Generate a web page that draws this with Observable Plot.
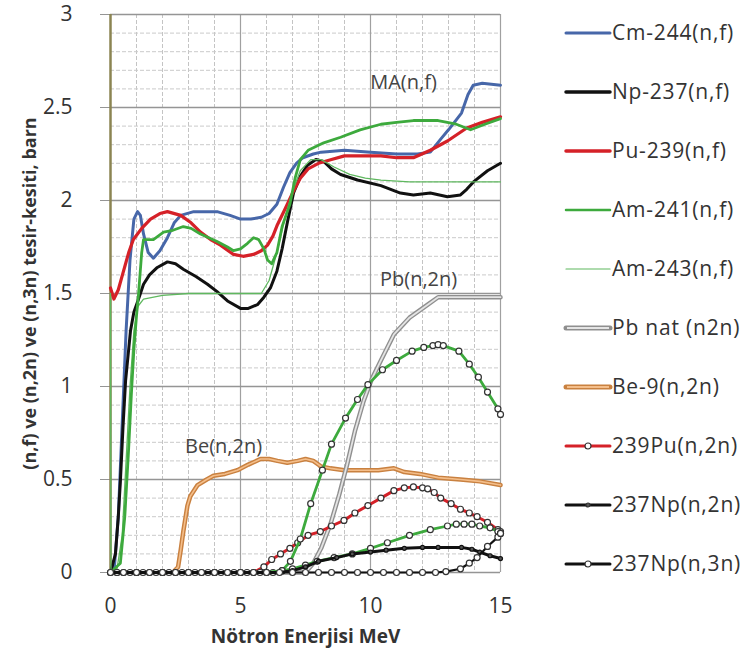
<!DOCTYPE html>
<html>
<head>
<meta charset="utf-8">
<script src="https://cdn.jsdelivr.net/npm/d3@7"></script>
<script src="https://cdn.jsdelivr.net/npm/@observablehq/plot@0.6"></script>
<style>
  body { margin: 0; background: #fff; }
  #wrap { position: relative; width: 747px; height: 664px; }
  #wrap svg { position: absolute; left: 0; top: 0; }
  text { font-family: "Open Sans", sans-serif; }
</style>
</head>
<body>
<div id="wrap"></div>
<script>
// ---- tick labels ----
const xTicks = [0, 5, 10, 15];
const yTicks = [0, 0.5, 1, 1.5, 2, 2.5, 3];

// ---- series (energy MeV, cross-section barn) ----
const cm244 = [[0,0],[0.15,0.03],[0.3,0.3],[0.45,0.8],[0.6,1.3],[0.75,1.68],[0.9,1.9],[1.04,1.94],[1.15,1.92],[1.27,1.82],[1.45,1.72],[1.65,1.69],[1.9,1.73],[2.19,1.8],[2.45,1.88],[2.7,1.92],[3.2,1.94],[4.1,1.94],[4.6,1.92],[5.0,1.9],[5.4,1.9],[5.8,1.91],[6.1,1.93],[6.4,1.98],[6.65,2.07],[6.9,2.15],[7.15,2.2],[7.4,2.23],[7.8,2.25],[8.1,2.26],[9,2.27],[10,2.26],[11,2.25],[11.8,2.25],[12.3,2.26],[12.7,2.33],[13.0,2.38],[13.5,2.47],[13.75,2.57],[13.95,2.62],[14.3,2.63],[15,2.62]];
const np237 = [[0,0],[0.19,0.1],[0.3,0.3],[0.38,0.49],[0.48,0.78],[0.58,1.03],[0.77,1.3],[0.9,1.4],[1.08,1.47],[1.27,1.55],[1.5,1.6],[1.8,1.64],[2.19,1.67],[2.5,1.66],[2.8,1.63],[3.3,1.59],[3.73,1.55],[4.1,1.51],[4.5,1.46],[5.0,1.42],[5.3,1.42],[5.65,1.44],[5.9,1.48],[6.15,1.53],[6.4,1.62],[6.6,1.74],[6.8,1.88],[7.04,2.04],[7.3,2.13],[7.58,2.19],[7.9,2.22],[8.2,2.21],[8.5,2.17],[8.85,2.14],[9.5,2.11],[10.4,2.08],[11.15,2.04],[11.65,2.03],[12.3,2.04],[12.96,2.02],[13.46,2.03],[13.7,2.06],[13.96,2.1],[14.5,2.16],[15,2.2]];
const pu239 = [[0,1.53],[0.13,1.47],[0.3,1.52],[0.5,1.62],[0.7,1.72],[0.88,1.79],[1.2,1.85],[1.54,1.9],[1.9,1.93],[2.19,1.94],[2.7,1.92],[3.1,1.88],[3.46,1.83],[3.85,1.79],[4.23,1.76],[4.73,1.71],[5.1,1.7],[5.5,1.71],[5.8,1.73],[6.04,1.76],[6.25,1.81],[6.42,1.87],[6.7,1.95],[7.0,2.04],[7.3,2.12],[7.6,2.17],[8.0,2.2],[8.5,2.22],[9,2.24],[10,2.24],[10.4,2.24],[11.0,2.23],[11.65,2.23],[12.3,2.27],[12.96,2.32],[13.7,2.39],[14.3,2.42],[15,2.45]];
const am241 = [[0,0],[0.38,0.05],[0.55,0.3],[0.7,0.67],[0.8,0.95],[0.9,1.2],[1.0,1.38],[1.08,1.5],[1.2,1.72],[1.27,1.79],[1.65,1.79],[2.04,1.83],[2.4,1.84],[2.8,1.86],[3.1,1.85],[3.46,1.82],[4.1,1.78],[4.5,1.75],[4.73,1.73],[5.0,1.74],[5.27,1.77],[5.5,1.8],[5.7,1.79],[5.9,1.74],[6.04,1.68],[6.2,1.66],[6.4,1.72],[6.6,1.86],[6.9,1.98],[7.1,2.12],[7.3,2.22],[7.6,2.27],[8.2,2.31],[8.85,2.34],[9.6,2.38],[10.4,2.41],[11.0,2.42],[11.65,2.43],[12.6,2.43],[13.3,2.41],[13.85,2.38],[14.4,2.41],[15,2.44]];
const am243 = [[0,1.5],[0.02,0],[0.25,0.02],[0.45,0.2],[0.6,0.6],[0.75,1.0],[0.9,1.3],[1.05,1.43],[1.27,1.47],[2,1.49],[3,1.5],[4,1.5],[5,1.5],[5.8,1.5],[6.1,1.57],[6.4,1.72],[6.7,1.9],[7.0,2.05],[7.3,2.16],[7.7,2.22],[8.1,2.22],[8.6,2.18],[9.2,2.14],[9.8,2.12],[10.4,2.11],[11.5,2.1],[12.5,2.1],[13.5,2.1],[14.5,2.1],[15,2.1]];
const pbNat = [[0,0],[7.5,0],[7.8,0.05],[8.1,0.13],[8.46,0.26],[8.8,0.42],[9.1,0.58],[9.4,0.76],[9.73,0.92],[10.05,1.04],[10.4,1.14],[10.9,1.28],[11.5,1.37],[12.2,1.44],[12.6,1.48],[13,1.48],[14,1.48],[15,1.48]];
const be9 = [[0,0],[2.4,0],[2.6,0.03],[2.7,0.12],[2.8,0.22],[2.96,0.36],[3.07,0.41],[3.35,0.47],[3.7,0.5],[3.96,0.52],[4.4,0.53],[4.88,0.55],[5.3,0.58],[5.77,0.61],[6.1,0.61],[6.42,0.6],[6.8,0.59],[7.2,0.6],[7.5,0.61],[7.8,0.6],[8.1,0.57],[8.46,0.56],[9,0.55],[9.6,0.55],[10.3,0.55],[10.9,0.56],[11.3,0.54],[11.9,0.53],[12.6,0.51],[13.46,0.5],[14.2,0.49],[15,0.47]];
const pu239n2n = [[0,0],[0.5,0],[1,0],[1.5,0],[2,0],[2.5,0],[3,0],[3.5,0],[4,0],[4.5,0],[5,0],[5.5,0],[5.9,0.03],[6.2,0.07],[6.54,0.1],[6.9,0.13],[7.2,0.16],[7.6,0.2],[8.07,0.22],[8.5,0.25],[8.98,0.28],[9.4,0.32],[9.9,0.36],[10.4,0.4],[10.9,0.44],[11.3,0.455],[11.65,0.46],[12.0,0.455],[12.2,0.45],[12.45,0.43],[12.7,0.4],[13.1,0.37],[13.46,0.34],[13.8,0.32],[14.1,0.3],[14.5,0.27],[14.9,0.23],[15,0.22]];
const np237n2n = [[0,0],[0.5,0],[1,0],[1.5,0],[2,0],[2.5,0],[3,0],[3.5,0],[4,0],[4.5,0],[5,0],[5.5,0],[6,0],[6.5,0],[7.0,0.01],[7.5,0.03],[8,0.06],[8.7,0.08],[9.3,0.1],[10,0.11],[10.6,0.12],[11.3,0.13],[12,0.135],[12.6,0.135],[13.5,0.135],[13.9,0.125],[14.2,0.11],[14.6,0.09],[15,0.075]];
const np237n3n = [[0,0],[0.5,0],[1,0],[1.5,0],[2,0],[2.5,0],[3,0],[3.5,0],[4,0],[4.5,0],[5,0],[5.5,0],[6,0],[6.5,0],[7,0],[7.5,0],[8,0],[8.5,0],[9,0],[9.5,0],[10,0],[10.5,0],[11,0],[11.5,0],[12,0],[12.5,0],[12.9,0.005],[13.46,0.02],[13.8,0.05],[14.1,0.08],[14.5,0.14],[14.9,0.19],[15,0.21]];
const greenBig = [[0.25,0],[0.75,0],[1.25,0],[1.75,0],[2.25,0],[2.75,0],[3.25,0],[3.75,0],[4.25,0],[4.75,0],[5.25,0],[5.75,0],[6.25,0],[6.6,0.01],[6.92,0.06],[7.3,0.18],[7.7,0.37],[8.15,0.55],[8.5,0.69],[9.04,0.83],[9.5,0.93],[9.9,1.01],[10.46,1.09],[11.0,1.14],[11.6,1.19],[12.05,1.21],[12.4,1.22],[12.6,1.225],[12.8,1.22],[13.4,1.19],[13.8,1.12],[14.15,1.05],[14.5,0.97],[14.9,0.88],[15,0.85]];
const greenSmall = [[0.25,0],[1.0,0],[2.0,0],[3.0,0],[4.0,0],[5.0,0],[6.0,0],[6.6,0.01],[7.0,0.02],[7.5,0.04],[7.95,0.06],[8.6,0.08],[9.3,0.1],[10,0.13],[10.65,0.16],[11.5,0.2],[12.3,0.23],[12.96,0.25],[13.3,0.26],[13.6,0.26],[13.9,0.26],[14.2,0.25],[14.6,0.24],[14.9,0.22],[15,0.21]];

// ---- annotations & legend ----
const notes = [{x: 11.27, y: 2.635, t: "MA(n,f)"}, {x: 11.85, y: 1.575, t: "Pb(n,2n)"}, {x: 4.35, y: 0.675, t: "Be(n,2n)"}];
const legendNames = ["Cm-244(n,f)","Np-237(n,f)","Pu-239(n,f)","Am-241(n,f)","Am-243(n,f)","Pb nat (n2n)","Be-9(n,2n)","239Pu(n,2n)","237Np(n,2n)","237Np(n,3n)"];

const C = {blue:"#4767a9", black:"#111111", red:"#d52128", green:"#3daa3d", green2:"#5fb85f", grayO:"#8f8f8f", grayI:"#e4e4e4", orO:"#c98140", orI:"#f4be8a"};
const legendStyles = [
  {s:C.blue, w:3}, {s:C.black, w:3.5}, {s:C.red, w:3.5}, {s:C.green, w:2.5}, {s:C.green2, w:1.2},
  {s:C.grayO, w:5, inner:C.grayI}, {s:C.orO, w:5, inner:C.orI},
  {s:C.red, w:3, m:"white"}, {s:C.black, w:3, m:"#555"}, {s:C.black, w:3, m:"white"}
];

const fx = d => d[0], fy = d => d[1];
const line = (data, o) => Plot.line(data, {x: fx, y: fy, curve: "linear", strokeLinejoin: "round", strokeLinecap: "round", ...o});
const dots = (data, o) => Plot.dot(data, {x: fx, y: fy, r: 3, fill: "white", stroke: "#333", strokeWidth: 1.2, ...o});

const chart = Plot.plot({
  width: 747, height: 664,
  marginLeft: 110, marginRight: 247, marginTop: 14, marginBottom: 92,
  x: {domain: [0, 15]},
  y: {domain: [0, 3]},
  style: {fontFamily: "'Open Sans', sans-serif", background: "white", overflow: "visible"},
  marks: [
    Plot.ruleX(d3.range(1, 15).filter(v => v % 5), {stroke: "#c4c4c4", strokeWidth: 1, strokeDasharray: "4,2"}),
    Plot.ruleY(d3.range(1, 30).filter(v => v % 5).map(v => v / 10), {stroke: "#cacaca", strokeWidth: 1, strokeDasharray: "4,2"}),
    Plot.ruleX([5, 10, 15], {stroke: "#a0a0a0", strokeWidth: 1.2}),
    Plot.ruleY(yTicks, {stroke: "#959595", strokeWidth: 1.3}),
    Plot.axisY({ticks: yTicks, tickSize: 10, tickPadding: 28, stroke: "#959595", fill: "#333", fontSize: 21, tickFormat: d => String(d), label: null}),
    Plot.axisX({ticks: xTicks, tickSize: 0, tickPadding: 26, fill: "#333", fontSize: 21, label: null}),
    Plot.ruleX([0], {stroke: "#8b8452", strokeWidth: 2.5}),
    line(be9, {stroke: C.orO, strokeWidth: 4.5}),
    line(be9, {stroke: C.orI, strokeWidth: 1.6}),
    line(pbNat, {stroke: C.grayO, strokeWidth: 4.5}),
    line(pbNat, {stroke: C.grayI, strokeWidth: 1.8}),
    line(cm244, {stroke: C.blue, strokeWidth: 3}),
    line(np237, {stroke: C.black, strokeWidth: 3}),
    line(pu239, {stroke: C.red, strokeWidth: 3.2}),
    line(am243, {stroke: C.green2, strokeWidth: 1.3}),
    line(am241, {stroke: C.green, strokeWidth: 2.8}),
    line(pu239n2n, {stroke: C.red, strokeWidth: 3}),
    dots(pu239n2n, {}),
    line(greenBig, {stroke: C.green, strokeWidth: 2.8}),
    dots(greenBig, {}),
    line(greenSmall, {stroke: C.green, strokeWidth: 2.8}),
    dots(greenSmall, {}),
    line(np237n2n, {stroke: C.black, strokeWidth: 3}),
    dots(np237n2n, {r: 2, fill: "#555", stroke: "#111"}),
    line(np237n3n, {stroke: C.black, strokeWidth: 2.2}),
    dots(np237n3n, {}),
    Plot.text(notes, {x: "x", y: "y", text: "t", fontSize: 20, fill: "#444"}),
    Plot.text(["Nötron Enerjisi MeV"], {frameAnchor: "bottom", dy: 70, fontSize: 19, fontWeight: "bold", fill: "#333"}),
    Plot.text(["(n,f) ve (n,2n) ve (n,3n) tesir-kesiti, barn"], {frameAnchor: "left", textAnchor: "middle", dx: -80, rotate: -90, fontSize: 18, fontWeight: "bold", fill: "#333"})
  ]
});

const wrap = document.getElementById("wrap");
wrap.appendChild(chart);

// legend overlay
const leg = d3.select(wrap).append("svg").attr("width", 747).attr("height", 664)
  .style("pointer-events", "none");
legendNames.forEach((name, i) => {
  const st = legendStyles[i];
  const yc = 33 + i * 59;
  const g = leg.append("g").attr("transform", `translate(0,${yc})`);
  g.append("line").attr("x1", 566).attr("x2", 610).attr("y1", 0).attr("y2", 0)
    .attr("stroke", st.s).attr("stroke-width", st.w).attr("stroke-linecap", "round");
  if (st.inner) g.append("line").attr("x1", 567).attr("x2", 609).attr("y1", 0).attr("y2", 0)
    .attr("stroke", st.inner).attr("stroke-width", 2);
  if (st.m) g.append("circle").attr("cx", 588).attr("cy", 0).attr("r", st.m === "white" ? 3 : 2)
    .attr("fill", st.m).attr("stroke", "#333").attr("stroke-width", 1.2);
  g.append("text").attr("x", 612).attr("y", 0).attr("dy", "0.35em")
    .attr("font-size", 21).attr("letter-spacing", "0.8px").attr("fill", "#333").attr("font-family", "'Open Sans', sans-serif")
    .text(name);
});
</script>
</body>
</html>
